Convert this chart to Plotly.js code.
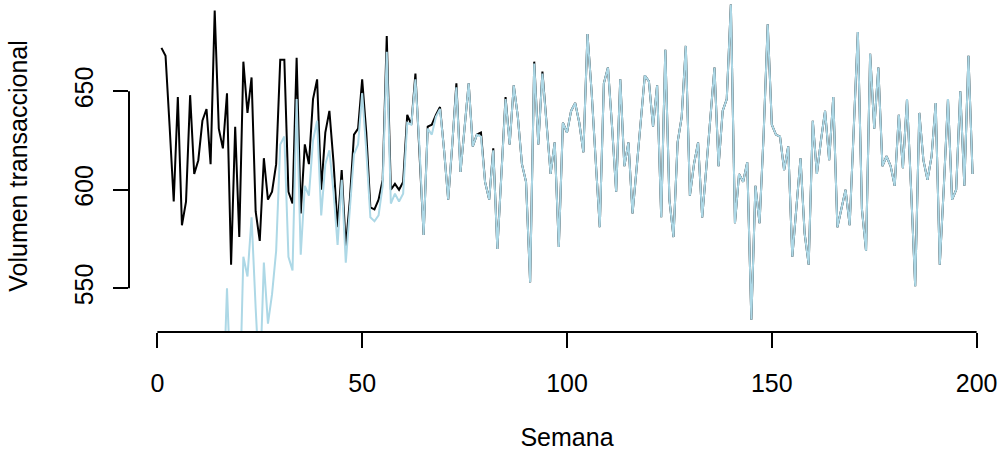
<!DOCTYPE html>
<html>
<head>
<meta charset="utf-8">
<script src="https://cdn.plot.ly/plotly-3.0.1.min.js"></script>
<style>html,body{margin:0;padding:0;background:#fff;}#chart{width:1005px;height:455px;}</style>
</head>
<body>
<div id="chart"></div>
<script>
// Observed weekly transactional volume (weeks 1..199)
const observed = [
672,668,632,594,647,582,594,648,608,615,
635,641,613,691,631,621,649,562,632,576,
665,639,657,589,574,616,595,599,613,666,
666,599,593,667,588,623,613,646,656,600,
629,640,614,581,610,571,595,628,631,656,
629,591,590,595,605,678,600,603,600,604,
638,633,659,621,577,632,633,638,642,620,
595,623,654,609,630,654,622,628,629,604,
595,621,570,607,647,623,653,637,613,604,
553,665,623,660,635,608,624,571,634,629,
640,644,634,619,679,650,615,581,654,662,
632,599,656,612,624,588,611,634,658,655,
632,653,586,671,595,576,624,637,673,597,
613,624,586,611,637,662,612,640,646,694,
583,608,604,614,534,602,583,628,684,633,
628,627,610,622,566,591,616,578,562,635,
608,625,640,615,647,581,590,600,582,629,
680,590,569,669,631,662,612,617,612,602,
638,611,646,600,551,639,615,605,617,644,
562,602,646,595,600,650,602,668,608
];
// Fitted values, starting at week 16
const fittedStart = 16;
const fitted = [
488,550,495,480,485,566,556,586,540,500,
563,532,547,569,623,627,566,559,646,567,
602,597,625,635,587,613,620,599,572,605,
563,590,618,623,649,620,586,584,587,602,
670,593,598,594,598,634,633,656,621,577,
631,628,637,641,620,595,623,652,609,630,
654,622,628,627,604,595,620,570,607,646,
623,653,637,613,604,553,664,623,659,635,
608,624,571,634,629,640,644,634,619,679,
650,615,581,654,662,632,599,656,612,624,
588,611,634,658,655,632,653,586,671,595,
576,624,637,673,597,613,624,586,611,637,
662,612,640,646,694,583,608,604,614,534,
602,583,628,684,633,628,627,610,622,566,
591,616,578,562,635,608,625,640,615,647,
581,590,600,582,629,680,590,569,669,631,
662,612,617,612,602,638,611,646,600,551,
639,615,605,617,644,562,602,646,595,600,
650,602,668,608
];
const xTicks = [0, 50, 100, 150, 200];
const yTicks = [550, 600, 650];
const xTitle = "Semana";
const yTitle = "Volumen transaccional";

const weeks = observed.map((_, i) => i + 1);
const fittedWeeks = fitted.map((_, i) => i + fittedStart);

const font = {family: "'Liberation Sans', Arial, Helvetica, sans-serif", size: 25, color: "#000"};

const data = [
  {x: weeks, y: observed, type: "scatter", mode: "lines",
   line: {color: "#000000", width: 2}, hoverinfo: "skip", showlegend: false},
  {x: fittedWeeks, y: fitted, type: "scatter", mode: "lines",
   line: {color: "#ADD8E6", width: 2}, hoverinfo: "skip", showlegend: false}
];

const layout = {
  width: 1005, height: 455,
  margin: {l: 129, r: 0, t: 0, b: 123, pad: 0},
  paper_bgcolor: "#fff", plot_bgcolor: "#fff",
  font: font,
  showlegend: false,
  xaxis: {
    range: [-6.92, 206.92], tickmode: "array", tickvals: xTicks, ticktext: xTicks.map(String),
    ticks: "outside", ticklen: 15, tickwidth: 2, tickcolor: "#000",
    showline: false, showgrid: false, zeroline: false, automargin: false,
    tickfont: font, ticklabelstandoff: 14,
    title: {text: xTitle, font: font, standoff: 32}
  },
  yaxis: {
    range: [527.8, 696.3], tickmode: "array", tickvals: yTicks, ticktext: yTicks.map(String),
    ticks: "outside", ticklen: 15, tickwidth: 2, tickcolor: "#000", tickangle: -90,
    showline: false, showgrid: false, zeroline: false, automargin: false,
    tickfont: font, ticklabelstandoff: 10,
    title: {text: yTitle, font: font, standoff: 35}
  },
  shapes: [
    {type: "line", xref: "x", yref: "paper", x0: xTicks[0], x1: xTicks[xTicks.length-1], y0: 0, y1: 0,
     line: {color: "#000", width: 2}},
    {type: "line", xref: "paper", yref: "y", x0: 0, x1: 0, y0: yTicks[0], y1: yTicks[yTicks.length-1],
     line: {color: "#000", width: 2}}
  ]
};

Plotly.newPlot("chart", data, layout, {displayModeBar: false, staticPlot: true});
</script>
</body>
</html>
